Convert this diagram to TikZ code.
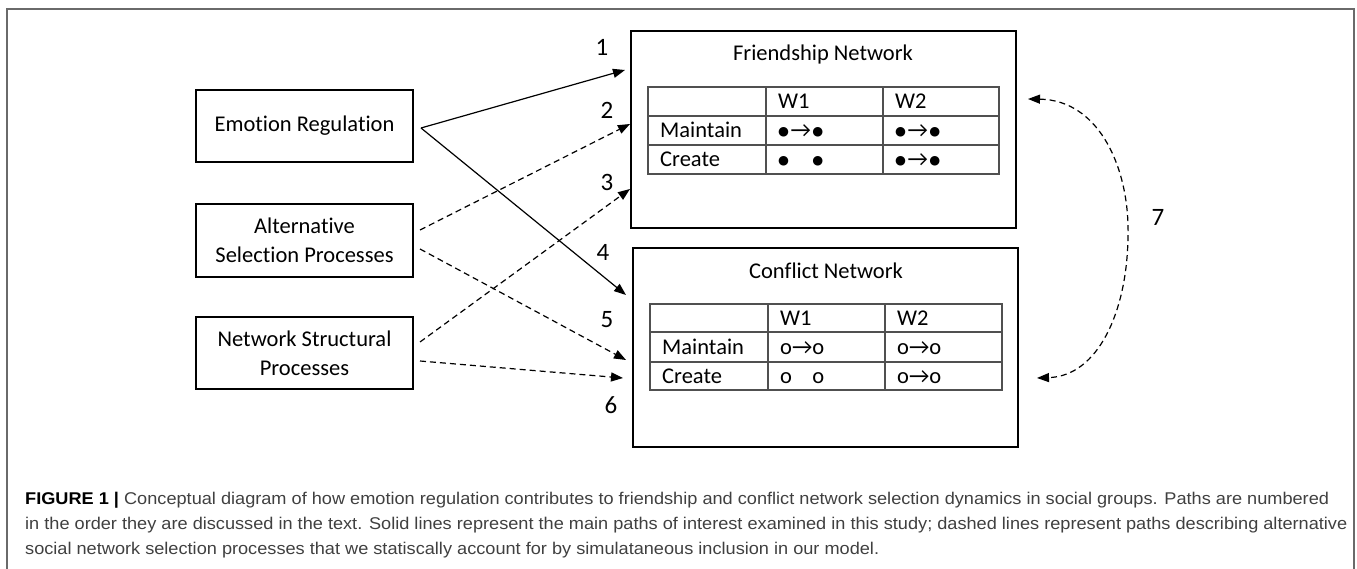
\documentclass[tikz,border=0pt]{standalone}
\usepackage{fontspec}
\usepackage{graphicx}
\setmainfont{Carlito}[Ligatures=NoCommon]
\newfontfamily\capfont{Liberation Sans}
\newfontfamily\symfont{DejaVu Sans}
\usetikzlibrary{arrows.meta}
\definecolor{capgrey}{HTML}{404040}
\definecolor{framegrey}{HTML}{6A6A6A}
\definecolor{tabgrey}{HTML}{505050}
\newsavebox\capboxA
\newlength\capwA
\newcommand\bul{\raisebox{2pt}{\symfont\fontsize{12.5}{12.5}\selectfont ●}}
\newcommand\fdot{\bul\hspace{1.5pt}→\hspace{1.5pt}\bul}
\newcommand\fgap{\bul\hspace{1.5pt}\phantom{→}\hspace{1.5pt}\bul}
\begin{document}
\sbox\capboxA{\capfont\fontsize{17}{20}\selectfont\textbf{\color{black}FIGURE 1 |} {\color{capgrey}Conceptual diagram of how emotion regulation contributes to friendship and conflict network selection dynamics in social groups. Paths are numbered}}%
\setlength\capwA{\wd\capboxA}%
\pgfmathsetmacro\capsx{1304pt/\capwA}%
\begin{tikzpicture}[x=1pt,y=-1pt,
  box/.style={draw,line width=2pt,inner sep=0pt,align=center,font=\fontsize{22.5}{29}\selectfont},
  lbl/.style={font=\fontsize{22.5}{29}\selectfont,inner sep=0pt},
  num/.style={font=\fontsize{25}{25}\selectfont,inner sep=0pt},
  cell/.style={font=\fontsize{22.5}{27}\selectfont,anchor=base west,inner sep=0pt},
  tab/.style={draw=tabgrey,line width=1.1pt},
  solidarr/.style={line width=1.2pt,-{Triangle[length=12pt,width=9pt]}},
  dasharr/.style={solidarr,dash pattern=on 6pt off 4pt},
  dualarr/.style={line width=1.2pt,dash pattern=on 6pt off 4pt,{Triangle[length=12pt,width=9pt]}-{Triangle[length=12pt,width=9pt]}},
  capline/.style={anchor=base west,inner sep=0pt,font=\capfont\fontsize{17}{20}\selectfont,text=capgrey}
]
\useasboundingbox (0,0) rectangle (1357,569);
% outer frame
\draw[framegrey,line width=1.5pt] (7,569) -- (7,9) -- (1354,9) -- (1354,569);

% left boxes
\node[box,minimum width=217pt,minimum height=72pt] (er) at (304.5,126) {Emotion Regulation};
\node[box,minimum width=217pt,minimum height=73pt] (alt) at (304.5,240.5) {Alternative\\Selection Processes};
\node[box,minimum width=217pt,minimum height=72pt] (ns) at (304.5,353) {Network Structural\\Processes};

% network boxes
\node[box,minimum width=385pt,minimum height=197pt] (fr) at (823.5,129.5) {};
\node[box,minimum width=385pt,minimum height=199pt] (cf) at (825.5,347.5) {};
\node[lbl] (frt) at (823,55) {Friendship Network};
\node[lbl] (cft) at (826,271) {Conflict Network};

% friendship table
\draw[tab] (648,87) rectangle (999,174);
\draw[tab] (648,116) -- (999,116) (648,145) -- (999,145) (766,87) -- (766,174) (883,87) -- (883,174);
\node[cell] (fw1) at (778,109) {W1};
\node[cell] (fw2) at (895,109) {W2};
\node[cell] (fm) at (660,138) {Maintain};
\node[cell] (fm1) at (778,138) {\fdot};
\node[cell] (fm2) at (895,138) {\fdot};
\node[cell] (fc) at (660,167) {Create};
\node[cell] (fc1) at (778,167) {\fgap};
\node[cell] (fc2) at (895,167) {\fdot};

% conflict table
\draw[tab] (650,304) rectangle (1002,390);
\draw[tab] (650,332) -- (1002,332) (650,362) -- (1002,362) (768,304) -- (768,390) (885,304) -- (885,390);
\node[cell] (cw1) at (780,325) {W1};
\node[cell] (cw2) at (897,325) {W2};
\node[cell] (cm) at (662,354) {Maintain};
\node[cell] (cm1) at (780,354) {o→o};
\node[cell] (cm2) at (897,354) {o→o};
\node[cell] (cc) at (662,383) {Create};
\node[cell] (cc1) at (780,383) {o\phantom{→}o};
\node[cell] (cc2) at (897,383) {o→o};

% arrow end points
\coordinate (s1) at (421,128);
\coordinate (t1) at (625,70);
\coordinate (t4) at (626,295);
\coordinate (s2) at (420,230);
\coordinate (t2) at (630,124);
\coordinate (s5) at (420,249);
\coordinate (t5) at (626,360);
\coordinate (s3) at (420,342);
\coordinate (t3) at (630,189);
\coordinate (s6) at (420,361);
\coordinate (t6) at (623,378);
\coordinate (t7a) at (1028,99);
\coordinate (m7) at (1128,237);
\coordinate (t7b) at (1037,378);

\draw[solidarr] (s1) -- (t1);
\draw[solidarr] (s1) -- (t4);
\draw[dasharr] (s2) -- (t2);
\draw[dasharr] (s5) -- (t5);
\draw[dasharr] (s3) -- (t3);
\draw[dasharr] (s6) -- (t6);
\draw[dualarr] (t7a) .. controls (1100,100) and (1130,170) .. (m7) .. controls (1127,312) and (1098,376) .. (t7b);

% numbers
\node[num] (n1) at (602,47) {1};
\node[num] (n2) at (607,110) {2};
\node[num] (n3) at (607,182) {3};
\node[num] (n4) at (603,252) {4};
\node[num] (n5) at (607,320) {5};
\node[num] (n6) at (611,405) {6};
\node[num] (n7) at (1158,217) {7};

% caption
\node[capline] (cap1) at (25,504) {\scalebox{\capsx}[1]{\usebox\capboxA}};
\node[capline] (cap2) at (25,529) {\scalebox{\capsx}[1]{in the order they are discussed in the text. Solid lines represent the main paths of interest examined in this study; dashed lines represent paths describing alternative}};
\node[capline] (cap3) at (25,554) {\scalebox{\capsx}[1]{social network selection processes that we statiscally account for by simulataneous inclusion in our model.}};
\end{tikzpicture}
\end{document}
